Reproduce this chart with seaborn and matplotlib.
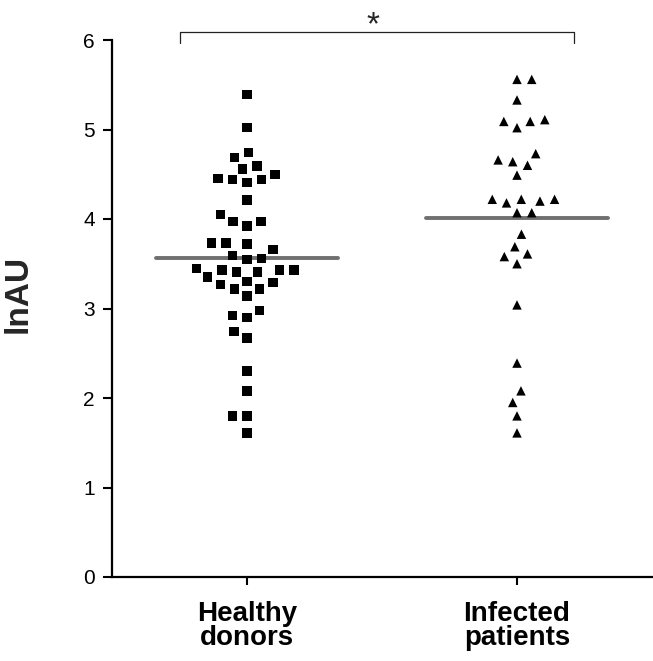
import numpy as np
import pandas as pd
import seaborn as sns
import matplotlib.pyplot as plt
from matplotlib.collections import PathCollection

groups = ["Healthy\ndonors", "Infected\npatients"]

# lnAU values
healthy = [5.39, 5.02, 4.69, 4.74, 4.59, 4.50, 4.56, 4.44, 4.41, 4.44, 4.45,
           4.21, 3.97, 3.92, 3.97, 4.05, 3.73, 3.72, 3.73, 3.66, 3.59, 3.55,
           3.56, 3.43, 3.43, 3.41, 3.35, 3.41, 3.43, 3.45, 3.29, 3.22, 3.14,
           3.22, 3.27, 3.30, 2.92, 2.90, 2.98, 2.67, 2.74, 2.30, 2.08, 1.80,
           1.80, 1.61]
infected = [5.56, 5.56, 5.33, 5.09, 5.02, 5.09, 5.11, 4.73, 4.64, 4.60, 4.66,
            4.49, 4.22, 4.20, 4.18, 4.22, 4.22, 4.07, 4.07, 3.83, 3.69, 3.58,
            3.61, 3.50, 3.04, 2.39, 2.08, 1.95, 1.80, 1.61]
group_means = [3.56, 4.01]
y_ticks = [0, 1, 2, 3, 4, 5, 6]
sig_label = "*"

sns.set_style("ticks")
plt.rcParams["font.family"] = ["Liberation Sans", "DejaVu Sans"]

df = pd.DataFrame({
    "group": [groups[0]] * len(healthy) + [groups[1]] * len(infected),
    "lnAU": healthy + infected,
})

fig = plt.figure(figsize=(6.53, 6.61), dpi=100)
ax = fig.add_axes([112 / 653, 84 / 661, 540 / 653, 537 / 661])

for grp, mk in zip(groups, ["s", "^"]):
    sns.swarmplot(data=df[df["group"] == grp], x="group", y="lnAU", order=groups,
                  marker=mk, color="black", size=6.8, ax=ax, zorder=3)

# wider spacing in the swarm without drawing an edge
for coll in ax.collections:
    if isinstance(coll, PathCollection):
        coll.set_linewidth(3.3)
        coll.set_edgecolor("none")

for i, m in enumerate(group_means):
    ax.plot([i - 0.337, i + 0.337], [m, m], color="#707070", lw=2.8,
            solid_capstyle="round", zorder=2)

# significance bracket
ax.plot([-0.248, -0.248, 1.211, 1.211], [5.97, 6.09, 6.09, 5.97],
        color="#222222", lw=0.9, clip_on=False)
ax.text(0.467, 6.06, sig_label, ha="center", va="baseline", fontsize=24)

ax.set_xlim(-0.5, 1.5)
ax.set_ylim(0, 6)
ax.set_yticks(y_ticks)
ax.set_xticks([0, 1])
ax.set_xticklabels(groups, fontweight="bold", fontsize=20, linespacing=0.9)
ax.set_xlabel("")
ax.set_ylabel("lnAU", fontsize=24, fontweight="bold")
ax.yaxis.set_label_coords(-0.146, 0.528)

sns.despine(ax=ax)
for s in ["left", "bottom"]:
    ax.spines[s].set_linewidth(1.6)
    ax.spines[s].set_color("black")
ax.tick_params(axis="y", length=6.5, width=1.5, labelsize=15, pad=6, colors="black")
ax.tick_params(axis="x", length=5.5, width=1.5, pad=12, colors="black")

fig.savefig("out.png", dpi=100)
